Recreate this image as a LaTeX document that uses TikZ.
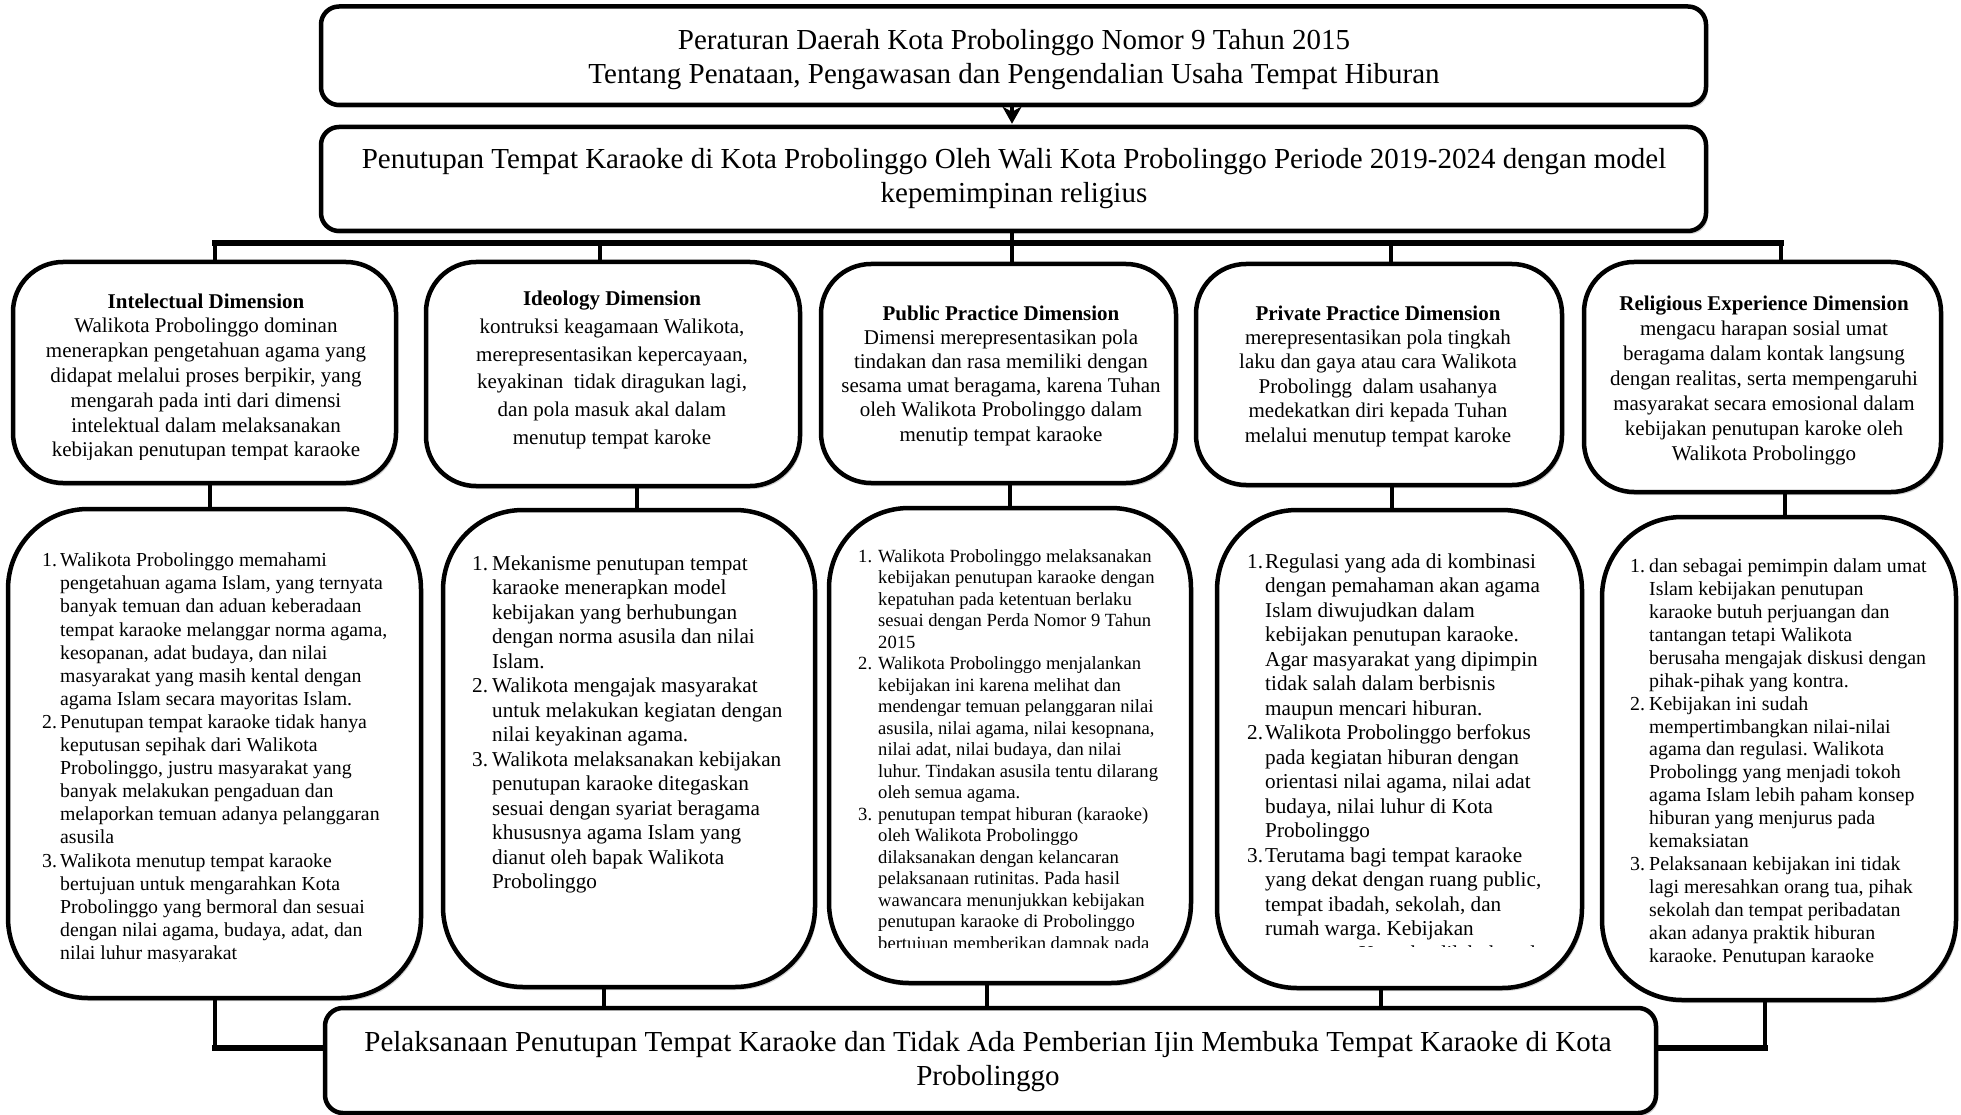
\documentclass[tikz,border=0pt]{standalone}
\usepackage{fontspec}
\setmainfont{Liberation Serif}
\usetikzlibrary{shadows,arrows.meta}
\newlength\mynumw
\newcommand\mynum[1]{\makebox[\mynumw][l]{#1}}
\frenchspacing
\begin{document}
\begin{tikzpicture}[x=1pt,y=-1pt,
  box/.style={draw, line width=4.5pt, fill=white, inner sep=0pt, rectangle,
    drop shadow={shadow xshift=2pt, shadow yshift=-3pt, opacity=0.35}},
  wide/.style={box, rounded corners=18pt},
  dimbox/.style={box, rounded corners=50pt},
  listbox/.style={box, rounded corners=80pt},
  conn/.style={line width=3.5pt},
  bus/.style={line width=6pt, line cap=rect},
  headtxt/.style={align=center, inner sep=0pt, font=\fontsize{29}{34}\selectfont},
  dimtxt/.style={align=center, inner sep=0pt, font=\fontsize{21}{24.8}\selectfont},
  listtxt/.style={anchor=north west, inner sep=0pt}
]
\fill[white] (0,0) rectangle (1961,1115);
\useasboundingbox (0,0) rectangle (1961,1115);

% coordinates for connectors
\coordinate (ax) at (1012,0);
\coordinate (j1) at (215,243);
\coordinate (j2) at (600,243);
\coordinate (j3) at (1012,243);
\coordinate (j4) at (1391,243);
\coordinate (j5) at (1781,243);
\coordinate (m1) at (210,0);
\coordinate (m2) at (637,0);
\coordinate (m3) at (1010,0);
\coordinate (m4) at (1392,0);
\coordinate (m5) at (1785,0);
\coordinate (n1) at (215,1048);
\coordinate (n2) at (604,0);
\coordinate (n3) at (987,0);
\coordinate (n4) at (1381,0);
\coordinate (n5) at (1765,1048);

% boxes
\node[wide, minimum width=1385pt, minimum height=98.5pt] (A) at (1013.5,55.75) {};
\node[wide, minimum width=1385pt, minimum height=104pt] (B) at (1013.5,179) {};
\node[dimbox, minimum width=383pt, minimum height=221pt] (t1) at (204.5,372.5) {};
\node[dimbox, minimum width=374pt, minimum height=224pt] (t2) at (613,374) {};
\node[dimbox, minimum width=355pt, minimum height=219pt] (t3) at (998.5,373.5) {};
\node[dimbox, minimum width=366pt, minimum height=221pt] (t4) at (1379,374.5) {};
\node[dimbox, minimum width=357pt, minimum height=230pt] (t5) at (1762.5,377) {};
\node[listbox, minimum width=413pt, minimum height=489pt] (b1) at (214.5,753.5) {};
\node[listbox, minimum width=372pt, minimum height=477pt] (b2) at (629,748.5) {};
\node[listbox, minimum width=362pt, minimum height=475pt] (b3) at (1010,745.5) {};
\node[listbox, minimum width=365pt, minimum height=478pt] (b4) at (1399.5,749) {};
\node[listbox, minimum width=354pt, minimum height=483pt] (b5) at (1779,758.5) {};
\node[wide, minimum width=1331pt, minimum height=105pt] (C) at (990.5,1060.5) {};

% connectors
\draw[line width=3.5pt, -{Stealth[length=17pt,width=19pt,inset=5pt]}] (A.south -| ax) -- ([yshift=1pt]B.north -| ax);
\draw[conn] (B.south -| j3) -- (j3);
\draw[bus] (j1) -- (j5);
\foreach \i in {1,...,5}{
  \draw[conn] (j\i) -- (j\i |- t\i.north);
  \draw[conn] (t\i.south -| m\i) -- (b\i.north -| m\i);
}
\draw[conn] (b1.south -| n1) -- (n1);
\draw[bus] (n1) -- (C.west |- n1);
\draw[conn] (b5.south -| n5) -- (n5);
\draw[bus] (n5) -- (C.east |- n5);
\foreach \i in {2,3,4}{
  \draw[conn] (b\i.south -| n\i) -- (n\i |- C.north);
}

% main texts
\node[headtxt] (Atxt) at (1014,60) {Peraturan Daerah Kota Probolinggo Nomor 9 Tahun 2015\\Tentang Penataan, Pengawasan dan Pengendalian Usaha Tempat Hiburan};
\node[headtxt] (Btxt) at (1014,179) {Penutupan Tempat Karaoke di Kota Probolinggo Oleh Wali Kota Probolinggo Periode 2019-2024 dengan model\\kepemimpinan religius};
\node[headtxt] (Ctxt) at (988,1062) {Pelaksanaan Penutupan Tempat Karaoke dan Tidak Ada Pemberian Ijin Membuka Tempat Karaoke di Kota\\Probolinggo};

% dimension texts
\begin{scope}
\clip (0,250) rectangle (420,459);
\node[dimtxt] (t1txt) at (206,377.5) {\textbf{Intelectual Dimension}\\Walikota Probolinggo dominan\\menerapkan pengetahuan agama yang\\didapat melalui proses berpikir, yang\\mengarah pada inti dari dimensi\\intelektual dalam melaksanakan\\kebijakan penutupan tempat karaoke};
\end{scope}
\node[dimtxt, font=\fontsize{21}{27.7}\selectfont] (t2txt) at (612,370) {\textbf{Ideology Dimension}\\kontruksi keagamaan Walikota,\\merepresentasikan kepercayaan,\\keyakinan\ \ tidak diragukan lagi,\\dan pola masuk akal dalam\\menutup tempat karoke};
\begin{scope}
\clip (810,250) rectangle (1160,490);
\node[dimtxt, font=\fontsize{21}{24.2}\selectfont] (t3txt) at (1001,375.5) {\textbf{Public Practice Dimension}\\Dimensi merepresentasikan pola\\tindakan dan rasa memiliki dengan\\sesama umat beragama, karena Tuhan\\oleh Walikota Probolinggo dalam\\menutip tempat karaoke};
\end{scope}
\node[dimtxt, font=\fontsize{21}{24.4}\selectfont] (t4txt) at (1378,376) {\textbf{Private Practice Dimension}\\merepresentasikan pola tingkah\\laku dan gaya atau cara Walikota\\Probolingg\ \ dalam usahanya\\medekatkan diri kepada Tuhan\\melalui menutup tempat karoke};
\node[dimtxt, font=\fontsize{21}{25}\selectfont] (t5txt) at (1764,380) {\textbf{Religious Experience Dimension}\\mengacu harapan sosial umat\\beragama dalam kontak langsung\\dengan realitas, serta mempengaruhi\\masyarakat secara emosional dalam\\kebijakan penutupan karoke oleh\\Walikota Probolinggo};

% list texts
\begin{scope}
\clip (0,500) rectangle (430,961);
\node[listtxt, font=\fontsize{19.8}{23.1}\selectfont] (b1txt) at (42,550.4) {\setlength\mynumw{18pt}%
\begin{tabular}{@{}l@{}l@{}}
\mynum{1.}&Walikota Probolinggo memahami\\
&pengetahuan agama Islam, yang ternyata\\
&banyak temuan dan aduan keberadaan\\
&tempat karaoke melanggar norma agama,\\
&kesopanan, adat budaya, dan nilai\\
&masyarakat yang masih kental dengan\\
&agama Islam secara mayoritas Islam.\\
\mynum{2.}&Penutupan tempat karaoke tidak hanya\\
&keputusan sepihak dari Walikota\\
&Probolinggo, justru masyarakat yang\\
&banyak melakukan pengaduan dan\\
&melaporkan temuan adanya pelanggaran\\
&asusila\\
\mynum{3.}&Walikota menutup tempat karaoke\\
&bertujuan untuk mengarahkan Kota\\
&Probolinggo yang bermoral dan sesuai\\
&dengan nilai agama, budaya, adat, dan\\
&nilai luhur masyarakat
\end{tabular}};
\end{scope}

\node[listtxt, font=\fontsize{21.2}{24.5}\selectfont] (b2txt) at (472,552.7) {\setlength\mynumw{20pt}%
\begin{tabular}{@{}l@{}l@{}}
\mynum{1.}&Mekanisme penutupan tempat\\
&karaoke menerapkan model\\
&kebijakan yang berhubungan\\
&dengan norma asusila dan nilai\\
&Islam.\\
\mynum{2.}&Walikota mengajak masyarakat\\
&untuk melakukan kegiatan dengan\\
&nilai keyakinan agama.\\
\mynum{3.}&Walikota melaksanakan kebijakan\\
&penutupan karaoke ditegaskan\\
&sesuai dengan syariat beragama\\
&khususnya agama Islam yang\\
&dianut oleh bapak Walikota\\
&Probolinggo
\end{tabular}};

\begin{scope}
\clip (820,500) rectangle (1200,947);
\node[listtxt, font=\fontsize{18.6}{21.5}\selectfont] (b3txt) at (858,547.2) {\setlength\mynumw{20pt}%
\begin{tabular}{@{}l@{}l@{}}
\mynum{1.}&Walikota Probolinggo melaksanakan\\
&kebijakan penutupan karaoke dengan\\
&kepatuhan pada ketentuan berlaku\\
&sesuai dengan Perda Nomor 9 Tahun\\
&2015\\
\mynum{2.}&Walikota Probolinggo menjalankan\\
&kebijakan ini karena melihat dan\\
&mendengar temuan pelanggaran nilai\\
&asusila, nilai agama, nilai kesopnana,\\
&nilai adat, nilai budaya, dan nilai\\
&luhur. Tindakan asusila tentu dilarang\\
&oleh semua agama.\\
\mynum{3.}&penutupan tempat hiburan (karaoke)\\
&oleh Walikota Probolinggo\\
&dilaksanakan dengan kelancaran\\
&pelaksanaan rutinitas. Pada hasil\\
&wawancara menunjukkan kebijakan\\
&penutupan karaoke di Probolinggo\\
&bertujuan memberikan dampak pada
\end{tabular}};
\end{scope}

\begin{scope}
\clip (1210,500) rectangle (1590,946.5);
\node[listtxt, font=\fontsize{21.2}{24.5}\selectfont] (b4txt) at (1247,550.7) {\setlength\mynumw{18pt}%
\begin{tabular}{@{}l@{}l@{}}
\mynum{1.}&Regulasi yang ada di kombinasi\\
&dengan pemahaman akan agama\\
&Islam diwujudkan dalam\\
&kebijakan penutupan karaoke.\\
&Agar masyarakat yang dipimpin\\
&tidak salah dalam berbisnis\\
&maupun mencari hiburan.\\
\mynum{2.}&Walikota Probolinggo berfokus\\
&pada kegiatan hiburan dengan\\
&orientasi nilai agama, nilai adat\\
&budaya, nilai luhur di Kota\\
&Probolinggo\\
\mynum{3.}&Terutama bagi tempat karaoke\\
&yang dekat dengan ruang public,\\
&tempat ibadah, sekolah, dan\\
&rumah warga. Kebijakan\\
&penutupan Karaoke dilakukan dengan
\end{tabular}};
\end{scope}

\begin{scope}
\clip (1595,500) rectangle (1961,963);
\node[listtxt, font=\fontsize{19.9}{22.9}\selectfont] (b5txt) at (1630,556.5) {\setlength\mynumw{19pt}%
\begin{tabular}{@{}l@{}l@{}}
\mynum{1.}&dan sebagai pemimpin dalam umat\\
&Islam kebijakan penutupan\\
&karaoke butuh perjuangan dan\\
&tantangan tetapi Walikota\\
&berusaha mengajak diskusi dengan\\
&pihak-pihak yang kontra.\\
\mynum{2.}&Kebijakan ini sudah\\
&mempertimbangkan nilai-nilai\\
&agama dan regulasi. Walikota\\
&Probolingg yang menjadi tokoh\\
&agama Islam lebih paham konsep\\
&hiburan yang menjurus pada\\
&kemaksiatan\\
\mynum{3.}&Pelaksanaan kebijakan ini tidak\\
&lagi meresahkan orang tua, pihak\\
&sekolah dan tempat peribadatan\\
&akan adanya praktik hiburan\\
&karaoke. Penutupan karaoke
\end{tabular}};
\end{scope}
\end{tikzpicture}
\end{document}
